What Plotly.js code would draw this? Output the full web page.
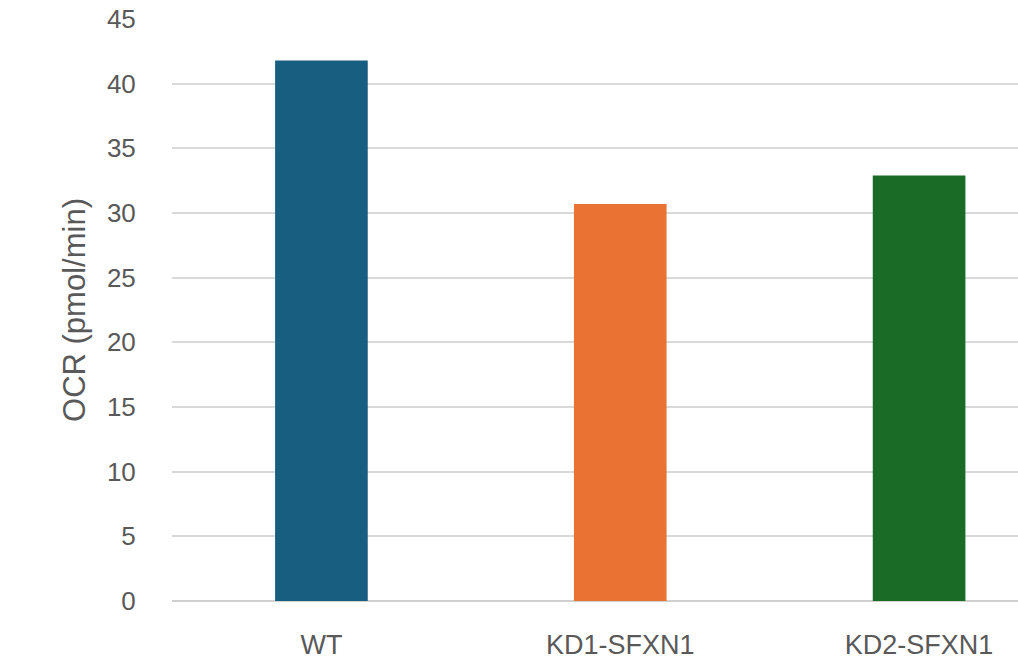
<!DOCTYPE html>
<html>
<head>
<meta charset="utf-8">
<script src="https://cdn.plot.ly/plotly-3.0.1.min.js"></script>
<style>html,body{margin:0;padding:0;background:#fff;}#chart{width:1018px;height:667px;}</style>
</head>
<body>
<div id="chart"></div>
<script>
var categories = ["WT", "KD1-SFXN1", "KD2-SFXN1"];
var ocrValues = [41.8, 30.7, 32.9];
var barColors = ["#175E80", "#EA7233", "#1A6B25"];
var yTicks = [0, 5, 10, 15, 20, 25, 30, 35, 40, 45];

var trace = {
  type: "bar",
  x: [0, 1, 2],
  y: ocrValues,
  width: 0.31,
  marker: {color: barColors, line: {width: 0}},
  hoverinfo: "skip"
};

var layout = {
  width: 1018, height: 667,
  margin: {l: 172, r: 0, t: 19, b: 66, pad: 0},
  paper_bgcolor: "#ffffff",
  plot_bgcolor: "#ffffff",
  showlegend: false,
  font: {family: "Liberation Sans, Arial, sans-serif", color: "#595959", size: 26},
  xaxis: {
    range: [-0.5, 2.331],
    tickmode: "array",
    tickvals: [0, 1, 2],
    ticktext: categories,
    showgrid: false,
    zeroline: false,
    showline: false,
    ticks: "outside",
    ticklen: 20,
    tickcolor: "rgba(0,0,0,0)",
    tickfont: {size: 27, color: "#595959"},
    fixedrange: true
  },
  yaxis: {
    range: [0, 45],
    tickmode: "array",
    tickvals: yTicks,
    ticktext: yTicks.map(String),
    showgrid: true,
    gridcolor: "#d9d9d9",
    gridwidth: 2,
    zeroline: true,
    zerolinecolor: "#d0d0d0",
    zerolinewidth: 2,
    showline: false,
    ticks: "outside",
    ticklen: 30,
    tickcolor: "rgba(0,0,0,0)",
    tickfont: {size: 26, color: "#595959"},
    title: {text: "OCR (pmol/min)", font: {size: 31, color: "#595959"}, standoff: 12},
    fixedrange: true
  }
};

Plotly.newPlot("chart", [trace], layout, {displayModeBar: false, staticPlot: true});
</script>
</body>
</html>
